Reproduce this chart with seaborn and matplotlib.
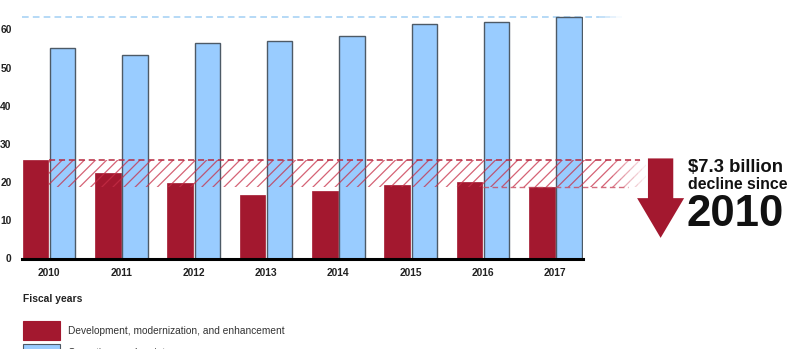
import numpy as np
import pandas as pd
import matplotlib
matplotlib.use("Agg")
import matplotlib.pyplot as plt
import seaborn as sns
from matplotlib.patches import Rectangle, Polygon

years = ["2010", "2011", "2012", "2013", "2014", "2015", "2016", "2017"]
dme = [25.8, 22.5, 19.8, 16.7, 17.7, 19.3, 19.9, 18.8]
oandm = [55.2, 53.2, 56.3, 56.9, 58.2, 61.4, 61.9, 63.3]
series_names = ["Development, modernization, and enhancement", "Operations and maintenance"]
y_ticks = [0, 10, 20, 30, 40, 50, 60]
headline = ["$7.3 billion", "decline since", "2010"]
axis_title = "Fiscal years"

RED = "#a3182f"
BLUE = "#99ccff"
EDGE = "#4d5a66"

df = pd.DataFrame({
    "year": years * 2,
    "value": dme + oandm,
    "series": [series_names[0]] * len(years) + [series_names[1]] * len(years),
})

sns.set_theme(style="white")
plt.rcParams["font.family"] = ["Liberation Sans", "DejaVu Sans"]
plt.rcParams["hatch.linewidth"] = 0.9

fig = plt.figure(figsize=(8.01, 3.49), dpi=100)
W, H = 801, 349
ax = fig.add_axes([22 / W, (H - 258.5) / H, (582.5 - 22) / W, (258.5 - 10.2) / H])

sns.barplot(data=df, x="year", y="value", hue="series", order=years,
            hue_order=series_names, palette=[RED, BLUE], width=0.75, gap=0.06,
            saturation=1, legend=False, ax=ax)
for p in ax.patches:
    fc = p.get_facecolor()
    p.set_zorder(2)
    if fc[2] > 0.8:
        p.set_edgecolor(EDGE)
        p.set_linewidth(1.0)
    else:
        p.set_edgecolor(RED)
        p.set_linewidth(0.5)

ax.set_xlim(-0.375, 7.375)
ax.set_ylim(0, 65)
ax.set_yticks(y_ticks)
ax.set_xlabel("")
ax.set_ylabel("")
for s in ["top", "right", "left"]:
    ax.spines[s].set_visible(False)
ax.spines["bottom"].set_color("black")
ax.spines["bottom"].set_linewidth(2.2)
ax.spines["bottom"].set_zorder(5)
ax.tick_params(axis="both", length=0, labelsize=7.4, colors="#222222")
ax.tick_params(axis="y", pad=7.5)
ax.tick_params(axis="x", pad=6.5)
for lbl in ax.get_xticklabels() + ax.get_yticklabels():
    lbl.set_fontweight("bold")
ax.grid(False)

# dashed light blue line at 2017 O&M level
top_val = oandm[-1] - 0.2
ax.plot([-0.375, 7.6], [top_val, top_val], ls=(0, (4, 2.5)), color="#a9d3f5",
        lw=1.2, clip_on=False, zorder=1)
for i, a in enumerate(np.linspace(0.8, 0.1, 4)):
    x0 = 7.6 + i * 0.08
    ax.plot([x0, x0 + 0.08], [top_val, top_val], ls=(0, (4, 2.5)), color="#a9d3f5",
            lw=1.2, alpha=a, clip_on=False, zorder=1)

# hatched decline band
hi, lo = dme[0], dme[-1]
band_end = 7.8
hatch_col = (0.78, 0.18, 0.28)
ax.add_patch(Rectangle((0.0, lo), band_end, hi - lo, facecolor="none",
                       edgecolor=(*hatch_col, 0.75), hatch="///", lw=0,
                       clip_on=False, zorder=3))
nseg = 8
seg_w = 0.45 / nseg
for i in range(nseg):
    a = 0.7 * (1 - (i + 1) / (nseg + 1))
    ax.add_patch(Rectangle((band_end + i * seg_w, lo), seg_w, hi - lo, facecolor="none",
                           edgecolor=(*hatch_col, a), hatch="///", lw=0,
                           clip_on=False, zorder=3))
ax.plot([0.0, 8.17], [hi, hi], ls=(0, (4, 2.5)), color="#b8283f", lw=1.1,
        clip_on=False, zorder=3)
ax.plot([6.0, 8.0], [lo, lo], ls=(0, (4, 2.5)), color="#c8485d", lw=1.0,
        alpha=0.8, clip_on=False, zorder=3)

# big down arrow
arrow = Polygon([(8.28, 26.2), (8.63, 26.2), (8.63, 15.8), (8.78, 15.8),
                 (8.455, 5.4), (8.13, 15.8), (8.28, 15.8)],
                closed=True, facecolor=RED, edgecolor="none", clip_on=False, zorder=4)
ax.add_patch(arrow)

# headline text
fig.text(688 / W, (H - 171.5) / H, headline[0], fontsize=13.3, fontweight="bold",
         color="#111111", va="baseline", ha="left")
fig.text(688 / W, (H - 189) / H, headline[1], fontsize=11.4, fontweight="bold",
         color="#111111", va="baseline", ha="left")
fig.text(686 / W, (H - 226.5) / H, headline[2], fontsize=31.5, fontweight="bold",
         color="#111111", va="baseline", ha="left")

# axis title and legend
fig.text(23 / W, (H - 301.5) / H, axis_title, fontsize=7.4, fontweight="bold",
         color="#222222", va="baseline", ha="left")
legend_rows = [(RED, RED, 321, series_names[0]), (BLUE, EDGE, 344, series_names[1])]
for fc, ec, ytop, name in legend_rows:
    fig.patches.append(Rectangle((23 / W, (H - ytop - 18.5) / H), 36.5 / W, 18.5 / H,
                                 facecolor=fc, edgecolor=ec, lw=0.8,
                                 transform=fig.transFigure, figure=fig))
    fig.text(68 / W, (H - ytop - 12.5) / H, name, fontsize=7.3, color="#333333",
             va="baseline", ha="left")

fig.savefig("out.png", dpi=100)
